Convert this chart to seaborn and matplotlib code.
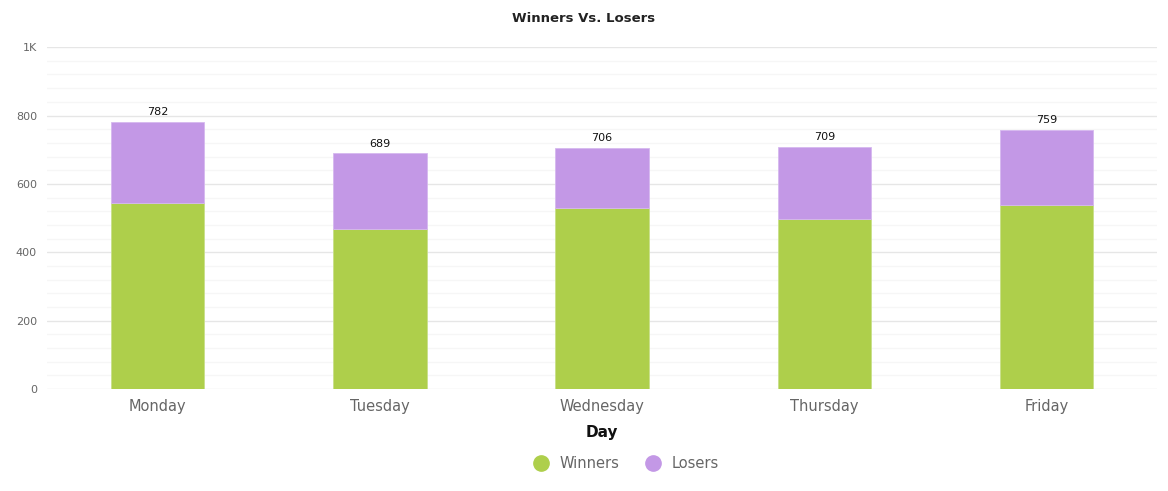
import matplotlib
matplotlib.use("Agg")
import matplotlib.pyplot as plt
import seaborn as sns
import pandas as pd
from matplotlib.ticker import MultipleLocator, FuncFormatter
from matplotlib.lines import Line2D

days = ["Monday", "Tuesday", "Wednesday", "Thursday", "Friday"]
winners = [545, 469, 530, 498, 537]
totals = [782, 689, 706, 709, 759]
losers = [t - w for t, w in zip(totals, winners)]

green = "#aecf4b"
purple = "#c398e6"

sns.set_theme(style="white")
plt.rcParams['font.family'] = ['DejaVu Sans']

df = pd.DataFrame({"Day": days, "Winners": winners, "Losers": losers, "Total": totals})

fig = plt.figure(figsize=(11.68, 4.91), dpi=100)
ax = fig.add_axes([0.040, 0.2077, 0.951, 0.6963])

sns.barplot(data=df, x="Day", y="Winners", color=green, width=0.42, ax=ax,
            saturation=1, edgecolor="#c8e08a", linewidth=0.6, zorder=3)
sns.barplot(data=df, x="Day", y="Losers", color=purple, width=0.42, ax=ax,
            saturation=1, bottom=df["Winners"], edgecolor="#d6b8ef", linewidth=0.6, zorder=3)

for i, t in enumerate(totals):
    ax.annotate(str(t), (i, t), xytext=(0, 3.5), textcoords="offset points",
                ha="center", va="bottom", fontsize=8, color="#111111")

ax.set_xlim(-0.5, 4.5)
ax.set_ylim(0, 1000)
ax.yaxis.set_major_locator(MultipleLocator(200))
ax.yaxis.set_minor_locator(MultipleLocator(40))
ax.yaxis.set_major_formatter(FuncFormatter(lambda v, p: "1K" if v >= 1000 else f"{int(v)}"))
ax.grid(axis="y", which="major", color="#e6e6e6", linewidth=1, zorder=0)
ax.grid(axis="y", which="minor", color="#f6f6f6", linewidth=1, zorder=0)
ax.set_axisbelow(True)
for s in ax.spines.values():
    s.set_visible(False)
ax.tick_params(axis="y", which="both", length=0, labelsize=8, labelcolor="#666666", pad=7)
ax.tick_params(axis="x", length=0, labelsize=10.5, labelcolor="#666666", pad=7)
ax.set_ylabel("")
ax.set_xlabel("Day", fontsize=11, fontweight="bold", color="#111111", labelpad=8)

fig.text(0.5, 0.962, "Winners Vs. Losers", ha="center", va="center",
         fontsize=9.5, fontweight="bold", color="#222222")

handles = [Line2D([0], [0], marker="o", linestyle="", markersize=11, markerfacecolor=green,
                  markeredgecolor=green, label="Winners"),
           Line2D([0], [0], marker="o", linestyle="", markersize=11, markerfacecolor=purple,
                  markeredgecolor=purple, label="Losers")]
leg = fig.legend(handles=handles, loc="center", bbox_to_anchor=(0.533, 0.055), ncol=2,
                 frameon=False, fontsize=10.5, handletextpad=0.3, columnspacing=1.3)
for t in leg.get_texts():
    t.set_color("#666666")

fig.savefig("out.png", dpi=100, facecolor="white")
